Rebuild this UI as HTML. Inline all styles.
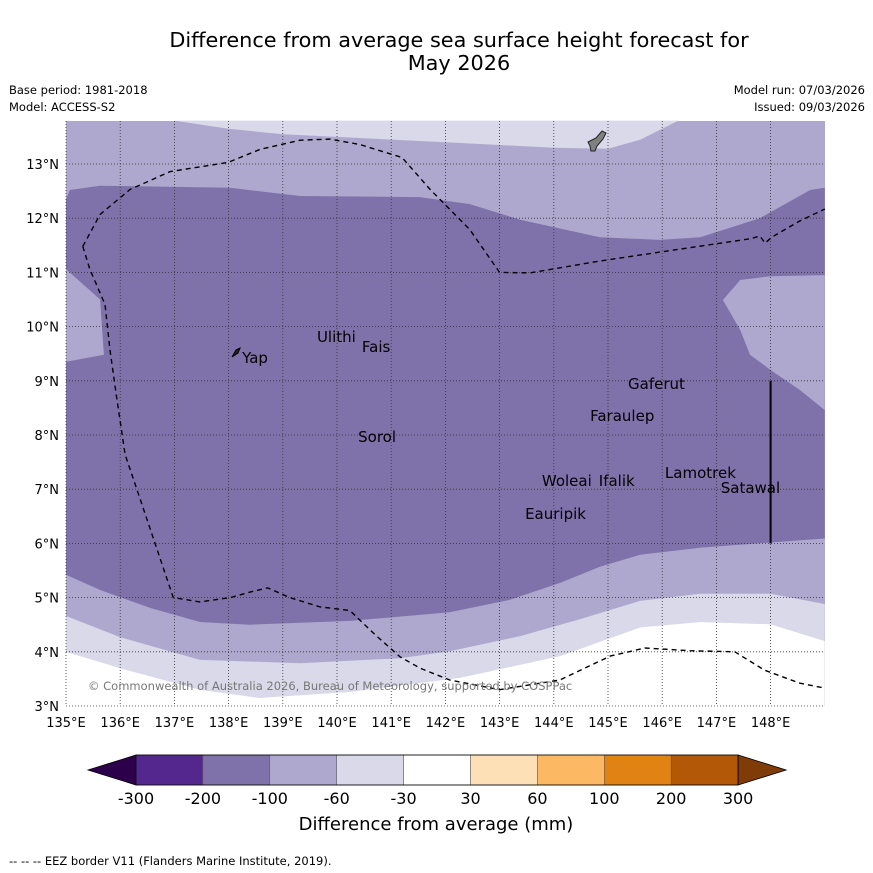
<!DOCTYPE html>
<html><head><meta charset="utf-8"><style>
body{margin:0;background:#fff;width:873px;height:873px;overflow:hidden;font-family:"Liberation Sans","DejaVu Sans",sans-serif}
svg{position:absolute;left:0;top:0}
text{font-family:"DejaVu Sans","Liberation Sans",sans-serif}
</style></head><body>
<svg id="chart" width="873" height="873">
<text x="459" y="47" font-size="20.8" text-anchor="middle">Difference from average sea surface height forecast for</text>
<text x="459" y="70" font-size="20.8" text-anchor="middle">May 2026</text>
<text x="9" y="94" font-size="11.5">Base period: 1981-2018</text>
<text x="9" y="111" font-size="11.5">Model: ACCESS-S2</text>
<text x="865" y="94" font-size="11.5" text-anchor="end">Model run: 07/03/2026</text>
<text x="865" y="111" font-size="11.5" text-anchor="end">Issued: 09/03/2026</text>
<g id="map"></g>
<g id="cbar"></g>
<text x="436" y="830" font-size="18" text-anchor="middle">Difference from average (mm)</text>
<text x="9" y="865" font-size="11.5">--  --  -- EEZ border V11 (Flanders Marine Institute, 2019).</text>
</svg>
<script>
const lonTicks=[135,136,137,138,139,140,141,142,143,144,145,146,147,148];
const latTicks=[3,4,5,6,7,8,9,10,11,12,13];
const lightTop=[[137.0,13.8],[138,13.65],[139,13.55],[140,13.5],[141,13.45],[142,13.4],[143,13.35],[144,13.3],[145,13.28],[145.6,13.45],[146.3,13.8]];
const darkTop=[[135,12.34],[135.07,12.52],[135.63,12.6],[138.03,12.56],[139.32,12.41],[141.53,12.39],[142.45,12.26],[143.38,11.97],[144.85,11.65],[145.96,11.6],[146.7,11.65],[147.8,12.0],[148.73,12.52],[149,12.56]];
const darkBottom=[[135,5.42],[135.63,5.14],[136.55,4.81],[137.47,4.55],[138.39,4.5],[140.24,4.57],[142.08,4.73],[143.19,4.96],[144.11,5.27],[144.85,5.57],[145.59,5.79],[146.7,5.92],[149,6.09]];
const medBottom=[[135,4.66],[136,4.27],[137.47,3.85],[139.32,3.79],[141.16,3.88],[142.08,4.01],[143.38,4.29],[144.48,4.6],[145.59,4.94],[146.7,5.07],[148,5.07],[149,4.88]];
const lightBottom=[[135,4.0],[136,3.7],[137.47,3.3],[138.57,3.15],[140.24,3.26],[142.27,3.52],[144.11,3.92],[145.59,4.45],[146.7,4.55],[148,4.51],[149,4.2]];
const leftWedge=[[135,11.06],[135.63,10.5],[135.7,9.48],[135,9.35]];
const rightWedge=[[149,10.95],[148,10.93],[147.44,10.86],[147.12,10.49],[147.44,9.94],[147.62,9.48],[148,9.2],[148.54,8.83],[149,8.46]];
const eez=[[135.31,11.48],[135.44,11.06],[135.72,10.41],[135.81,9.58],[135.94,8.66],[136.09,7.64],[136.37,6.81],[136.65,5.98],[136.98,5.0],[137.47,4.92],[138.03,5.0],[138.39,5.1],[138.72,5.18],[139.13,5.0],[139.68,4.83],[140.24,4.76],[140.7,4.32],[141.16,3.91],[141.53,3.7],[142.08,3.48],[143.0,3.3],[144.11,3.48],[145.04,3.92],[145.68,4.07],[146.51,4.02],[147.34,4.0],[147.89,3.66],[148.54,3.42],[149,3.33]];
const eezTop=[[135.31,11.48],[135.63,12.07],[136.18,12.53],[136.92,12.86],[137.99,13.03],[138.58,13.27],[139.32,13.44],[139.87,13.46],[140.42,13.36],[141.2,13.12],[141.72,12.53],[142.45,11.79],[143.0,11.0],[143.56,10.99],[144.85,11.21],[146.33,11.43],[147.62,11.62],[147.8,11.67],[147.9,11.54],[148.02,11.65],[148.54,11.95],[149,12.17]];
const placeNames=["Ulithi","Fais","Yap","Gaferut","Faraulep","Sorol","Woleai","Ifalik","Lamotrek","Satawal","Eauripik"];
const placeLon=[139.63,140.46,138.25,145.37,144.67,140.39,143.78,144.83,146.05,147.08,143.47];
const placeLat=[9.72,9.53,9.33,8.85,8.26,7.87,7.06,7.06,7.21,6.93,6.45];
const cbLabels=["-300","-200","-100","-60","-30","30","60","100","200","300"];
const cbColors=["#54278f","#7f72aa","#aea8ce","#d9d9ea","#ffffff","#fee0b6","#fdb863","#e08214","#b35806"];

const NS="http://www.w3.org/2000/svg";
const X=lon=>66+(lon-135)*54.2, Y=lat=>706-(lat-3)*54.2;
const mapG=document.getElementById('map');
function mk(tag,attrs,parent){const e=document.createElementNS(NS,tag);for(const k in attrs)e.setAttribute(k,attrs[k]);parent.appendChild(e);return e;}
const pts=a=>a.map(p=>X(p[0]).toFixed(1)+","+Y(p[1]).toFixed(1)).join(" ");
const topLat=13.8,botLat=3,leftLon=135,rightLon=149;
let e;
e=mk('rect',{x:66,y:121,width:759,height:585,fill:'#aea8ce'},mapG);


e=mk('polygon',{points:pts([...lightTop,[146.3,topLat],[137,topLat]]),fill:'#d9d9ea'},mapG);


e=mk('polygon',{points:pts([...darkTop,...darkBottom.slice().reverse()]),fill:'#7f72aa'},mapG);


e=mk('polygon',{points:pts(leftWedge),fill:'#aea8ce'},mapG);


e=mk('polygon',{points:pts(rightWedge),fill:'#aea8ce'},mapG);


e=mk('polygon',{points:pts([...medBottom,...lightBottom.slice().reverse()]),fill:'#d9d9ea'},mapG);


e=mk('polygon',{points:pts([...lightBottom,[rightLon,botLat],[leftLon,botLat]]),fill:'#ffffff'},mapG);


lonTicks.forEach(v=>{
 const g=mk('line',{x1:X(v),x2:X(v),y1:121,y2:706,stroke:'#333','stroke-width':0.8,'stroke-dasharray':'1,2'},mapG);
 
 
 const t=mk('text',{x:X(v),y:727,'font-size':13,'text-anchor':'middle'},mapG);t.textContent=v+"°E";
 
 
});
latTicks.forEach(v=>{
 const g=mk('line',{x1:66,x2:825,y1:Y(v),y2:Y(v),stroke:'#333','stroke-width':0.8,'stroke-dasharray':'1,2'},mapG);
 
 
 const t=mk('text',{x:59,y:Y(v)+5,'font-size':13,'text-anchor':'end'},mapG);t.textContent=v+"°N";
 
 
});
e=mk('polyline',{points:pts(eez),fill:'none',stroke:'#000','stroke-width':1.4,'stroke-dasharray':'5,4'},mapG);


e=mk('polyline',{points:pts(eezTop),fill:'none',stroke:'#000','stroke-width':1.4,'stroke-dasharray':'5,4'},mapG);


e=mk('line',{x1:X(148),x2:X(148),y1:Y(9),y2:Y(6),stroke:'#000','stroke-width':2},mapG);


e=mk('path',{d:'M588,142 L596,138 L602,131 L606,133 L603,139 L597,146 L595,151 L591,151 L590,146 Z',fill:'#808080',stroke:'#222','stroke-width':1},mapG);


e=mk('path',{d:'M232,357 L236,350 L240,348 L238,353 Z',fill:'#222',stroke:'#000','stroke-width':1},mapG);


placeNames.forEach((n,i)=>{
 const t=mk('text',{x:X(placeLon[i]),y:Y(placeLat[i]),'font-size':15},mapG);t.textContent=n;
 
 
});
e=mk('text',{x:88,y:690,'font-size':11.5,fill:'#777'},mapG);e.textContent="© Commonwealth of Australia 2026, Bureau of Meteorology, supported by COSPPac";


const cb=document.getElementById('cbar');
const cx0=136,cw=66.9,cy=755,ch=30;
e=mk('polygon',{points:`${cx0},${cy} 88,${cy+ch/2} ${cx0},${cy+ch}`,fill:'#2d004b',stroke:'#000','stroke-width':0.8},cb);


cbColors.forEach((c,i)=>{
 const r=mk('rect',{x:cx0+i*cw,y:cy,width:cw,height:ch,fill:c,stroke:'#555','stroke-width':0.5},cb);
 
 
});
const cx1=cx0+cbColors.length*cw;
e=mk('polygon',{points:`${cx1},${cy} ${cx1+48},${cy+ch/2} ${cx1},${cy+ch}`,fill:'#7f3b08',stroke:'#000','stroke-width':0.8},cb);


e=mk('rect',{x:cx0,y:cy,width:cx1-cx0,height:ch,fill:'none',stroke:'#000','stroke-width':0.8},cb);


cbLabels.forEach((l,i)=>{
 const t=mk('text',{x:cx0+i*cw,y:804,'font-size':16,'text-anchor':'middle'},cb);t.textContent=l;
 
 
});
</script>
</body></html>
